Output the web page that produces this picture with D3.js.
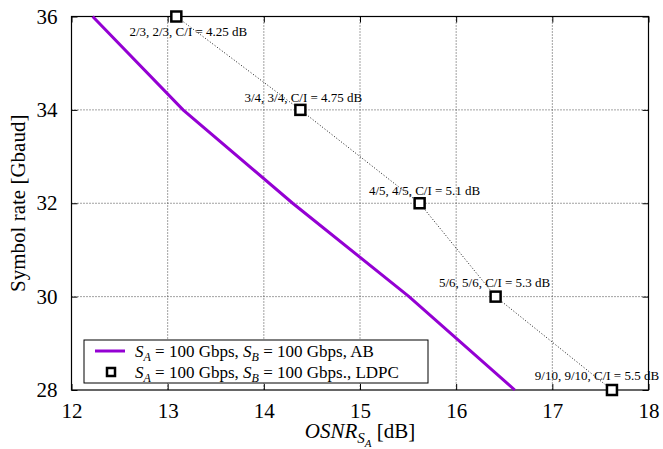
<!DOCTYPE html>
<html>
<head>
<meta charset="utf-8">
<script src="https://cdn.jsdelivr.net/npm/d3@7"></script>
<style>
  body { margin: 0; background: #fff; }
  text { font-family: 'Liberation Serif', 'DejaVu Serif', serif; }
</style>
</head>
<body>
<div id="app"></div>
<script>
/* global d3 */

// Data
const abRate = [36, 34, 32, 30, 28];
const abOsnr = [12.22, 13.16, 14.30, 15.51, 16.61];

const ldpcRate = [36, 34, 32, 30, 28];
const ldpcOsnr = [13.09, 14.38, 15.62, 16.41, 17.62];
const ldpcLabels = [
  '2/3, 2/3, C/I = 4.25 dB',
  '3/4, 3/4, C/I = 4.75 dB',
  '4/5, 4/5, C/I = 5.1 dB',
  '5/6, 5/6, C/I = 5.3 dB',
  '9/10, 9/10, C/I = 5.5 dB',
];

const xTicks = [12, 13, 14, 15, 16, 17, 18];
const yTicks = [28, 30, 32, 34, 36];

// Constants
const width = 663;
const height = 449;
const margin = ({
  top: 16.5,
  right: 14.5,
  bottom: 59,
  left: 71.5,
});
const plotWidth = width - margin.left - margin.right;
const plotHeight = height - margin.top - margin.bottom;

const svg = d3.select('#app')
  .append('svg')
  .attr('width', width)
  .attr('height', height);

const plot = svg.append('g')
  .attr('transform', `translate(${margin.left}, ${margin.top})`);

const xScale = d3.scaleLinear().domain([12, 18]).range([0, plotWidth]);
const yScale = d3.scaleLinear().domain([28, 36]).range([plotHeight, 0]);

// Grid (dotted)
plot.append('g')
  .selectAll('line')
  .data(xTicks.slice(1, -1))
  .join('line')
  .attr('x1', (d) => xScale(d))
  .attr('x2', (d) => xScale(d))
  .attr('y1', 0)
  .attr('y2', plotHeight)
  .attr('stroke', '#444')
  .attr('stroke-width', 1)
  .attr('stroke-dasharray', '1,2');
plot.append('g')
  .selectAll('line')
  .data(yTicks.slice(1, -1))
  .join('line')
  .attr('x1', 0)
  .attr('x2', plotWidth)
  .attr('y1', (d) => yScale(d))
  .attr('y2', (d) => yScale(d))
  .attr('stroke', '#444')
  .attr('stroke-width', 1)
  .attr('stroke-dasharray', '1,2');

// Axes: ticks pointing inwards on all sides
const fontSize = 21;
const fmt = d3.format('d');
const xAxisB = plot.append('g')
  .attr('transform', `translate(0, ${plotHeight})`)
  .call(d3.axisBottom(xScale).tickValues(xTicks).tickFormat(fmt)
    .tickSizeInner(-6).tickSizeOuter(0).tickPadding(13));
const xAxisT = plot.append('g')
  .call(d3.axisTop(xScale).tickValues(xTicks).tickSizeInner(-6).tickSizeOuter(0).tickFormat(''));
const yAxisL = plot.append('g')
  .call(d3.axisLeft(yScale).tickValues(yTicks).tickFormat(fmt)
    .tickSizeInner(-6).tickSizeOuter(0).tickPadding(14));
const yAxisR = plot.append('g')
  .attr('transform', `translate(${plotWidth}, 0)`)
  .call(d3.axisRight(yScale).tickValues(yTicks).tickSizeInner(-6).tickSizeOuter(0).tickFormat(''));

[xAxisB, xAxisT, yAxisL, yAxisR].forEach((ax) => {
  ax.attr('font-family', "'Liberation Serif', serif")
    .attr('font-size', fontSize);
  ax.select('.domain').remove();
  ax.selectAll('line').attr('stroke', '#000');
  ax.selectAll('text').attr('fill', '#000');
});

// Frame
plot.append('rect')
  .attr('width', plotWidth)
  .attr('height', plotHeight)
  .attr('fill', 'none')
  .attr('stroke', '#000')
  .attr('stroke-width', 1.2);

// AB curve
const line = d3.line()
  .x((d, i) => xScale(abOsnr[i]))
  .y((d) => yScale(d));
plot.append('path')
  .datum(abRate)
  .attr('d', line)
  .attr('fill', 'none')
  .attr('stroke', '#9400d3')
  .attr('stroke-width', 3);

// LDPC dotted connector
const ldpcLine = d3.line()
  .x((d, i) => xScale(ldpcOsnr[i]))
  .y((d) => yScale(d));
plot.append('path')
  .datum(ldpcRate)
  .attr('d', ldpcLine)
  .attr('fill', 'none')
  .attr('stroke', '#000')
  .attr('stroke-width', 0.9)
  .attr('stroke-dasharray', '1,2');

// LDPC labels (hand placed like the original)
const labelDx = [12, 3, 5, -1, -15];
const labelDy = [19, -8, -8.5, -10, -10];
plot.append('g')
  .selectAll('text')
  .data(ldpcLabels)
  .join('text')
  .attr('x', (d, i) => xScale(ldpcOsnr[i]) + labelDx[i])
  .attr('y', (d, i) => yScale(ldpcRate[i]) + labelDy[i])
  .attr('text-anchor', 'middle')
  .style('font-size', '13px')
  .text((d) => d);

// LDPC markers
plot.append('g')
  .selectAll('rect')
  .data(ldpcRate)
  .join('rect')
  .attr('x', (d, i) => xScale(ldpcOsnr[i]) - 5)
  .attr('y', (d) => yScale(d) - 5)
  .attr('width', 10)
  .attr('height', 10)
  .attr('fill', '#fff')
  .attr('stroke', '#000')
  .attr('stroke-width', 2.5);

// Legend
const legend = svg.append('g')
  .attr('transform', 'translate(84, 340)');
legend.append('rect')
  .attr('width', 344)
  .attr('height', 43)
  .attr('fill', '#fff')
  .attr('stroke', '#000')
  .attr('stroke-width', 1);
legend.append('line')
  .attr('x1', 11)
  .attr('x2', 41)
  .attr('y1', 11)
  .attr('y2', 11)
  .attr('stroke', '#9400d3')
  .attr('stroke-width', 3);
legend.append('rect')
  .attr('x', 23)
  .attr('y', 28)
  .attr('width', 8)
  .attr('height', 8)
  .attr('fill', '#fff')
  .attr('stroke', '#000')
  .attr('stroke-width', 2.5);

const legendRows = [
  { y: 17, tail: ', AB' },
  { y: 38, tail: '., LDPC' },
];
legendRows.forEach((row) => {
  const t = legend.append('text')
    .attr('x', 51)
    .attr('y', row.y)
    .style('font-size', '17px');
  t.append('tspan').style('font-style', 'italic').text('S');
  t.append('tspan').attr('dy', 4).style('font-style', 'italic').style('font-size', '12px').text('A');
  t.append('tspan').attr('dy', -4).text(' = 100 Gbps, ');
  t.append('tspan').style('font-style', 'italic').text('S');
  t.append('tspan').attr('dy', 4).style('font-style', 'italic').style('font-size', '12px').text('B');
  t.append('tspan').attr('dy', -4).text(` = 100 Gbps${row.tail}`);
});

// Axis labels
const xLabel = svg.append('text')
  .attr('x', margin.left + plotWidth / 2)
  .attr('y', 438)
  .attr('text-anchor', 'middle')
  .style('font-size', `${fontSize}px`);
xLabel.append('tspan').style('font-style', 'italic').text('OSNR');
xLabel.append('tspan').attr('dy', 5).style('font-style', 'italic').style('font-size', '15px').text('S');
xLabel.append('tspan').attr('dy', 4).style('font-style', 'italic').style('font-size', '11px').text('A');
xLabel.append('tspan').attr('dy', -9).text(' [dB]');

svg.append('text')
  .attr('transform', `translate(25, ${margin.top + plotHeight / 2}) rotate(-90)`)
  .attr('text-anchor', 'middle')
  .style('font-size', `${fontSize}px`)
  .text('Symbol rate [Gbaud]');
</script>
</body>
</html>
